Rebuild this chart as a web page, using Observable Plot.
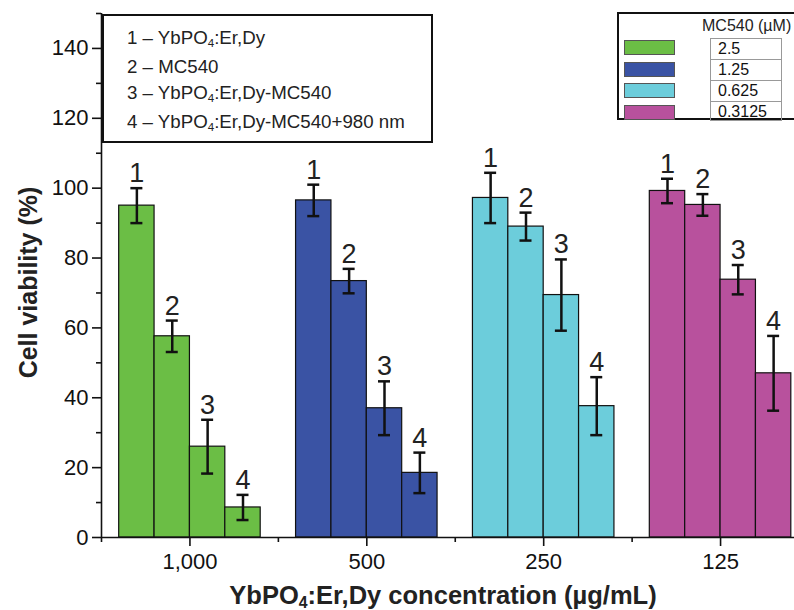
<!DOCTYPE html>
<html>
<head>
<meta charset="utf-8">
<script src="https://cdn.jsdelivr.net/npm/d3@7"></script>
<script src="https://cdn.jsdelivr.net/npm/@observablehq/plot@0.6"></script>
<style>
  html, body { margin: 0; padding: 0; background: #fff; overflow: hidden; }
  #wrap { position: relative; width: 794px; height: 610px; font-family: "Liberation Sans", Arial, sans-serif; color: #111; }
  .box { position: absolute; box-sizing: border-box; border: 2px solid #111; background: #fff; }
  .ln { position: absolute; white-space: nowrap; }
  sub { font-size: 0.62em; vertical-align: -0.25em; line-height: 0; }
  .sw { position: absolute; box-sizing: border-box; border: 1px solid #555; }
  .cell { position: absolute; box-sizing: border-box; border: 1px solid #999; font-size: 16px; padding-left: 7px; line-height: 19px; }
</style>
</head>
<body>
<div id="wrap"></div>
<script>
// ---- data ----
const concentrations = ["1,000", "500", "250", "125"];
const seriesLabels = ["1", "2", "3", "4"];
const viability1000 = [95.0, 57.6, 26.0, 8.6];
const error1000     = [5.0, 4.5, 7.7, 3.6];
const viability500  = [96.5, 73.4, 37.0, 18.5];
const error500      = [4.5, 3.5, 7.7, 5.8];
const viability250  = [97.2, 89.0, 69.4, 37.6];
const error250      = [7.2, 4.0, 10.2, 8.3];
const viability125  = [99.2, 95.2, 73.8, 47.0];
const error125      = [3.5, 3.1, 4.2, 10.7];
const colors = ["#6bbe45", "#3a53a4", "#6ccddb", "#b8519d"];
const mc540Levels = ["2.5", "1.25", "0.625", "0.3125"];
const legendTitle = "MC540 (µM)";
const seriesNames = ["YbPO|4|:Er,Dy", "MC540", "YbPO|4|:Er,Dy-MC540", "YbPO|4|:Er,Dy-MC540+980 nm"];
const yTicks = [0, 20, 40, 60, 80, 100, 120, 140];
const yMinor = [10, 30, 50, 70, 90, 110, 130, 150];
const yTitle = "Cell viability (%)";
const xTitle = "YbPO|4|:Er,Dy concentration (µg/mL)";

const values = [viability1000, viability500, viability250, viability125];
const errors = [error1000, error500, error250, error125];
const data = [];
concentrations.forEach((c, i) => {
  seriesLabels.forEach((s, j) => {
    data.push({conc: c, label: s, pos: i + (j - 1.5) * 0.2, value: values[i][j], err: errors[i][j]});
  });
});

const chart = Plot.plot({
  width: 794,
  height: 610,
  marginLeft: 101,
  marginRight: 0,
  marginTop: 13,
  marginBottom: 73,
  style: {fontFamily: "'Liberation Sans', Arial, sans-serif", color: "#111", background: "transparent"},
  x: {domain: [-0.5, 3.5], range: [101, 808.5], axis: null},
  y: {domain: [0, 150], axis: null},
  color: {domain: concentrations, range: colors},
  marks: [
    Plot.rectY(data, {x1: d => d.pos - 0.1, x2: d => d.pos + 0.1, y: "value", fill: "conc", stroke: "#111", strokeWidth: 1.2}),
    Plot.ruleX(data, {x: "pos", y1: d => d.value - d.err, y2: d => d.value + d.err, stroke: "#111", strokeWidth: 2.5}),
    Plot.ruleY(data, {y: d => d.value + d.err, x1: "pos", x2: "pos", insetLeft: -6, insetRight: -6, stroke: "#111", strokeWidth: 2.5}),
    Plot.ruleY(data, {y: d => d.value - d.err, x1: "pos", x2: "pos", insetLeft: -6, insetRight: -6, stroke: "#111", strokeWidth: 2.5}),
    Plot.text(data, {x: "pos", y: d => d.value + d.err, text: "label", dy: -6, lineAnchor: "bottom", fontSize: 27, fill: "#222"}),
    Plot.ruleX([-0.5], {stroke: "#111", strokeWidth: 1.6}),
    Plot.ruleY([0], {stroke: "#111", strokeWidth: 1.6}),
    Plot.axisY({ticks: yTicks, tickSize: 9, tickPadding: 4, fontSize: 22, label: null, strokeWidth: 1.6}),
    Plot.axisY({ticks: yMinor, tickSize: 5, tickFormat: () => "", label: null, strokeWidth: 1.6}),
    Plot.axisX({ticks: [0, 1, 2, 3], tickFormat: i => concentrations[i], tickSize: 9, tickPadding: 7, fontSize: 22, label: null, strokeWidth: 1.6}),
    Plot.axisX({ticks: [-0.5, 0.5, 1.5, 2.5], tickSize: 5, tickFormat: () => "", label: null, strokeWidth: 1.6}),
    Plot.text([yTitle], {frameAnchor: "left", textAnchor: "middle", dx: -73, dy: 7, rotate: -90, fontSize: 25, fontWeight: "bold", fill: "#222"})
  ]
});
const wrap = document.getElementById("wrap");
chart.style.position = "absolute";
chart.style.left = "0";
chart.style.top = "0";
wrap.appendChild(chart);

function withSub(s) {
  const parts = s.split("|");
  return parts.map((p, k) => k % 2 ? "<sub>" + p + "</sub>" : p).join("");
}

// x title
const xt = document.createElement("div");
xt.className = "ln";
xt.style.cssText = "left:0;width:886px;text-align:center;top:582px;height:26px;line-height:26px;font-size:25.5px;font-weight:bold;color:#222;";
xt.innerHTML = withSub(xTitle);
wrap.appendChild(xt);

// left legend
const lg = document.createElement("div");
lg.className = "box";
lg.style.cssText = "left:102px;top:14px;width:331px;height:129px;";
const tops = [11, 40, 66, 95];
seriesNames.forEach((n, k) => {
  const d = document.createElement("div");
  d.className = "ln";
  d.style.cssText = `left:23px;top:${tops[k]}px;font-size:18.7px;color:#222;`;
  d.innerHTML = seriesLabels[k] + " – " + withSub(n);
  lg.appendChild(d);
});
wrap.appendChild(lg);

// right legend
const rg = document.createElement("div");
rg.className = "box";
rg.style.cssText = "left:617px;top:12px;width:200px;height:108px;";
const t = document.createElement("div");
t.className = "ln";
t.style.cssText = "left:83px;top:3px;font-size:16px;color:#222;";
t.textContent = legendTitle;
rg.appendChild(t);
mc540Levels.forEach((lv, k) => {
  const sw = document.createElement("div");
  sw.className = "sw";
  sw.style.cssText = `left:5px;top:${26 + k * 21.5}px;width:51px;height:15px;background:${colors[k]};`;
  rg.appendChild(sw);
  const c = document.createElement("div");
  c.className = "cell";
  c.style.cssText += `left:91px;top:${24 + k * 21}px;width:72px;height:${k === 3 ? 20 : 22}px;`;
  c.textContent = lv;
  rg.appendChild(c);
});
wrap.appendChild(rg);
</script>
</body>
</html>
